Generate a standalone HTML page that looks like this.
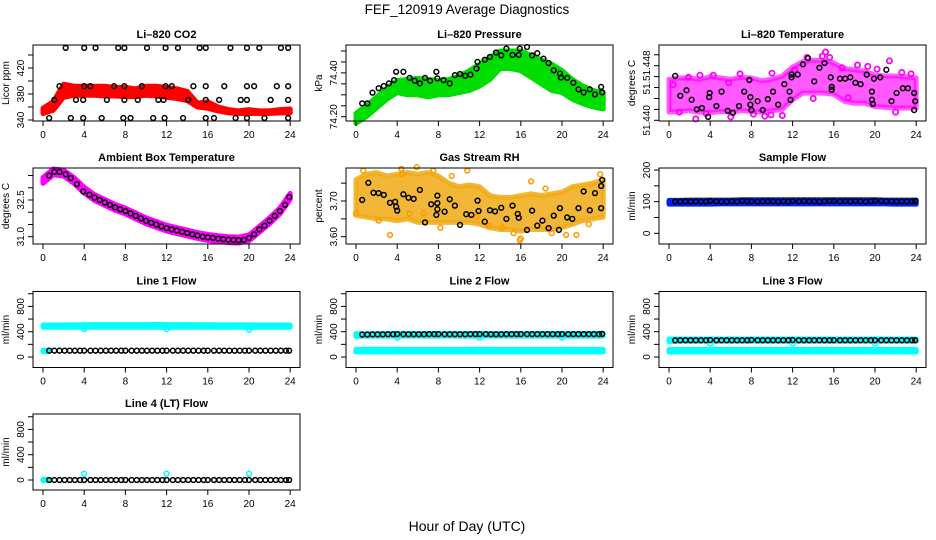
<!DOCTYPE html>
<html><head><meta charset="utf-8"><style>
html,body{margin:0;padding:0;background:#fff;}
svg{display:block;font-family:"Liberation Sans",sans-serif;}
</style></head><body>
<svg id="chart" width="936" height="540" viewBox="0 0 936 540" xmlns="http://www.w3.org/2000/svg">
<rect width="936" height="540" fill="#fff"/>
<text x="467" y="14" text-anchor="middle" font-size="13.5">FEF_120919  Average Diagnostics</text>
<text x="467" y="531" text-anchor="middle" font-size="14">Hour of Day (UTC)</text>
</svg>
<script>
// ---- shared data ----
const bandHours = [0,1,2,3,4,5,6,7,8,9,10,11,12,13,14,15,16,17,18,19,20,21,22,23,24];
const xTicks = [0,4,8,12,16,20,24];
const flowHours = [0.6,1.1,1.6,2.1,2.6,3.1,3.6,4.0,4.6,5.1,5.6,6.1,6.6,7.1,7.6,8.0,8.6,9.1,9.6,10.1,10.6,11.1,11.6,12.0,12.6,13.1,13.6,14.1,14.6,15.1,15.6,16.0,16.6,17.1,17.6,18.1,18.6,19.1,19.6,20.0,20.6,21.1,21.6,22.1,22.6,23.1,23.6,23.9];
const dipHours = [4,12,20];

// CO2
const co2Lo = [350,355,375,378,378,378,377,377,376,376,378,377,375,373,370,360,358,354,351,350,350,350,350,351,351];
const co2Hi = [358,368,395,392,392,392,392,390,390,388,392,392,390,388,384,366,368,360,356,354,356,354,354,356,357];
const co2BlkHours = [2.2,4,5.1,7.3,7.9,10.1,11.9,13.1,15.2,15.8,18.2,19.8,21,23.1,23.8, 1.6,4,4.6,6.9,7.9,9.6,11.9,12.5,14.6,15.8,17.6,19.8,20.5,22.7,23.8, 1.1,3.2,3.9,6.2,7.9,9.2,11.2,11.7,14.1,15.8,17.1,19.2,19.8,22.1,23.8, 0.6,2.7,3.9,5.7,7.8,8.5,10.7,11.8,13.6,15.8,16.6,18.7,19.8,21.5,23.8];
const co2BlkVals = [451,451,451,451,451,451,451,451,451,451,451,451,451,451,451, 392,392,392,392,392,392,392,392,392,392,392,392,392,392,392, 371,371,371,371,371,371,371,371,371,371,371,371,371,371,371, 343,343,343,343,343,343,343,343,343,343,343,343,343,343,343];
const co2Ticks = [340,360,380,400,420,440];
const co2Labels = ["340","","380","","420",""];

// Pressure
const presLo = [74.17,74.20,74.24,74.28,74.31,74.30,74.30,74.29,74.30,74.30,74.31,74.32,74.34,74.37,74.42,74.42,74.41,74.38,74.35,74.32,74.31,74.28,74.26,74.245,74.235];
const presHi = [74.215,74.25,74.29,74.33,74.365,74.37,74.375,74.37,74.365,74.37,74.385,74.41,74.44,74.47,74.50,74.50,74.50,74.48,74.46,74.44,74.41,74.37,74.34,74.32,74.31];
const presBlkHours = [0.6,1.1,1.6,2.2,2.7,3.2,3.7,3.9,4.6,5.2,5.7,6.2,6.7,7.2,7.8,7.9,8.5,9.1,9.6,10.1,10.6,11.1,11.7,11.8,12.5,13.0,13.6,14.1,14.6,15.2,15.8,15.9,16.6,17.1,17.6,18.2,18.7,19.2,19.8,19.9,20.5,21.1,21.6,22.1,22.7,23.2,23.8,23.9];
const presBlkVals = [74.261,74.261,74.31,74.33,74.34,74.352,74.367,74.405,74.405,74.377,74.364,74.352,74.377,74.364,74.405,74.375,74.367,74.352,74.39,74.395,74.387,74.392,74.42,74.45,74.46,74.473,74.493,74.48,74.511,74.482,74.482,74.511,74.518,74.48,74.49,74.465,74.445,74.412,74.397,74.379,74.377,74.355,74.325,74.311,74.325,74.302,74.336,74.311];
const presTicks = [74.20,74.25,74.30,74.35,74.40,74.45,74.50];
const presLabels = ["74.20","","","","74.40","",""];

// Li-820 temperature
const ltLo = [51.4412,51.4413,51.4414,51.4412,51.4411,51.4413,51.4412,51.4414,51.4413,51.4412,51.4414,51.4416,51.4430,51.4440,51.4440,51.4440,51.4438,51.4428,51.4425,51.4425,51.4420,51.4419,51.4418,51.4418,51.4418];
const ltHi = [51.4460,51.4462,51.4462,51.4460,51.4464,51.4462,51.4460,51.4463,51.4462,51.4458,51.4460,51.4465,51.4478,51.4486,51.4488,51.4488,51.4484,51.4476,51.4474,51.4472,51.4466,51.4465,51.4465,51.4464,51.4462];
const ltMagHours = [0.4,1.0,2.6,3.0,3.6,4.3,6.0,6.9,8.2,9.3,10.0,11.0,12.2,13.4,14.0,14.9,15.2,15.6,16.8,17.4,18.3,19.3,20.2,21.4,22.0,22.6,23.5,1.9,5.8,9.9];
const ltMagVals = [51.4452,51.4412,51.4402,51.4466,51.4410,51.4466,51.4405,51.4468,51.4409,51.4406,51.4469,51.4407,51.4474,51.4492,51.4432,51.4494,51.4500,51.4492,51.4477,51.4433,51.4481,51.4479,51.4475,51.4487,51.4412,51.4470,51.4468,51.4463,51.4455,51.4408];
const ltBlkHours = [0.6,1.1,1.7,2.2,2.7,3.2,3.8,3.9,3.95,4.6,5.1,5.7,6.2,6.8,7.3,7.8,7.9,7.9,8.0,8.6,9.1,9.6,10.1,10.6,11.2,11.7,11.8,11.9,11.9,12.5,13.0,13.5,14.1,14.6,15.1,15.7,15.8,15.8,16.6,17.1,17.6,18.1,18.6,19.2,19.7,19.7,19.8,19.9,20.5,21.1,21.6,22.1,22.7,23.2,23.8,23.9,23.8];
const ltBlkVals = [51.4465,51.4436,51.4444,51.4430,51.4416,51.4418,51.4405,51.4434,51.4440,51.4421,51.4442,51.4414,51.4411,51.4421,51.4442,51.4459,51.4434,51.4423,51.4415,51.4428,51.4415,51.4431,51.4442,51.4423,51.4453,51.4442,51.4430,51.4467,51.4463,51.4467,51.4482,51.4491,51.4457,51.4477,51.4484,51.4463,51.4449,51.4445,51.4461,51.4461,51.4463,51.4455,51.4453,51.4467,51.4442,51.4430,51.4424,51.4461,51.4463,51.4474,51.4428,51.4440,51.4447,51.4447,51.4440,51.4428,51.4415];
const ltTicks = [51.4400,51.4416,51.4432,51.4448,51.4464,51.4480,51.4496];
const ltLabels = ["51.440","","","51.","","51.448",""];

// Ambient box temperature
const ambCurve = [33.3,33.65,33.6,33.3,32.9,32.6,32.4,32.2,32.05,31.85,31.65,31.5,31.35,31.25,31.15,31.05,30.97,30.92,30.88,30.86,30.95,31.3,31.65,32.05,32.65];
const ambBlkHours = [0.6,1.1,1.6,2.2,2.7,3.3,3.9,4.5,5.0,5.5,6.0,6.5,7.0,7.5,8.0,8.5,9.0,9.5,10.0,10.5,11.0,11.5,12.0,12.5,13.0,13.5,14.0,14.5,15.0,15.5,16.0,16.5,17.0,17.5,18.0,18.5,19.0,19.5,20.0,20.5,21.0,21.5,22.0,22.5,23.0,23.5,23.9];
const ambBlkVals = [33.5,33.65,33.65,33.55,33.4,33.15,32.85,32.72,32.6,32.5,32.4,32.3,32.2,32.12,32.05,31.95,31.85,31.75,31.65,31.57,31.5,31.42,31.35,31.3,31.25,31.2,31.15,31.1,31.05,31.0,30.97,30.95,30.92,30.9,30.88,30.87,30.86,30.87,30.95,31.1,31.3,31.45,31.65,31.85,32.05,32.3,32.62];
const ambTicks = [31.0,31.5,32.0,32.5,33.0,33.5];
const ambLabels = ["31.0","","","32.5","",""];

// Gas stream RH
const rhLo = [3.66,3.655,3.65,3.65,3.645,3.65,3.64,3.64,3.64,3.64,3.64,3.64,3.635,3.625,3.62,3.62,3.615,3.62,3.62,3.62,3.625,3.635,3.645,3.65,3.655];
const rhHi = [3.76,3.775,3.78,3.77,3.775,3.78,3.775,3.78,3.77,3.75,3.74,3.745,3.74,3.715,3.71,3.71,3.715,3.72,3.715,3.72,3.725,3.74,3.745,3.75,3.76];
const rhOrHours = [0.0,0.7,2.2,3.3,4.4,5.2,5.9,7.5,8.2,9.3,10.8,11.7,12.9,14.2,15.3,15.9,16.0,17.0,18.4,19.0,20.4,21.4,22.6,23.7,4.5,6.6];
const rhOrVals = [3.665,3.785,3.645,3.605,3.79,3.665,3.795,3.785,3.625,3.77,3.785,3.655,3.63,3.625,3.61,3.59,3.595,3.755,3.735,3.61,3.605,3.605,3.635,3.775,3.775,3.665];
const rhBlkHours = [0.6,1.2,1.7,2.2,2.7,3.3,3.8,3.9,4.0,4.6,5.1,5.6,6.2,6.7,7.3,7.9,7.9,7.9,7.8,8.6,9.1,9.6,10.1,10.7,11.2,11.8,11.9,12.5,13.0,13.5,14.1,14.6,15.2,15.7,15.8,16.6,17.1,17.6,18.1,18.7,19.2,19.7,19.8,20.5,21.0,21.6,22.1,22.7,23.2,23.8,23.9,23.8];
const rhBlkVals = [3.703,3.751,3.723,3.722,3.717,3.695,3.698,3.684,3.673,3.719,3.709,3.706,3.731,3.640,3.691,3.715,3.694,3.677,3.661,3.670,3.705,3.687,3.633,3.663,3.661,3.701,3.672,3.642,3.674,3.671,3.681,3.650,3.687,3.664,3.653,3.619,3.673,3.631,3.645,3.624,3.659,3.619,3.680,3.654,3.650,3.680,3.727,3.674,3.722,3.742,3.759,3.680];
const rhTicks = [3.60,3.65,3.70,3.75];
const rhLabels = ["3.60","","3.70",""];

// Sample flow
const sfLo = [92,92,92,92,92,93,93,93,93,93,93,93,93,93,93,93,93,93,93,93,93,93,92,92,92];
const sfHi = [104,104,105,105,105,105,105,106,106,106,106,106,106,106,106,106,106,106,106,106,106,105,105,105,105];
const sfBlkVals = [100,100,101,100,101,100,100,102,101,100,100,101,100,102,101,101,100,101,102,101,100,101,100,102,101,102,101,101,100,101,102,102,101,102,101,102,101,100,101,102,102,101,101,100,101,100,101,102];
const sfTicks = [0,50,100,150,200];
const sfLabels = ["0","","100","","200"];

// Line flows
const flowTicks = [0,200,400,600,800,1000];
const flowLabels = ["0","","400","","800",""];
const l1CyanLo = [470,470,470,470,468,470,470,470,470,470,470,470,468,470,470,470,470,470,470,470,468,470,470,470,470];
const l1CyanHi = [505,505,506,508,510,512,512,512,512,512,512,514,512,512,512,510,510,508,508,508,508,506,506,506,506];
const l1Dip = [440,440,430];
const l1BlkVals = [100,100,100,100,100,100,100,100,100,100,100,100,100,100,100,100,100,100,100,100,100,100,100,100,100,100,100,100,100,100,100,100,100,100,100,100,100,100,100,100,100,100,100,100,100,100,100,100];
const l2CyanHiLo = [80,80,80,80,80,80,80,80,80,80,80,80,80,80,80,80,80,80,80,80,80,80,80,80,80];
const l2CyanHiHi = [120,120,120,120,120,120,120,120,120,120,120,120,120,120,120,120,120,120,120,120,120,120,120,120,120];
const l2CyanUpLo = [325,330,330,330,330,330,330,330,330,330,330,330,330,330,330,330,330,330,330,330,330,330,330,330,330];
const l2CyanUpHi = [370,370,370,372,372,372,372,372,372,372,372,372,372,372,372,372,372,372,372,372,372,372,372,372,372];
const l2Dip = [305,305,305];
const l2BlkVals = [355,355,358,358,358,360,360,362,360,360,360,360,360,362,362,362,360,360,360,360,360,362,362,362,362,360,360,360,362,362,362,362,362,362,362,362,362,362,362,362,362,362,362,362,362,362,362,365];
const l3CyanUpLo = [245,250,250,250,250,250,250,250,250,250,250,250,250,250,250,250,250,250,250,250,250,250,250,250,250];
const l3CyanUpHi = [285,285,285,285,285,285,285,285,285,285,285,285,285,285,285,285,285,285,285,285,285,285,285,285,285];
const l3Dip = [215,215,215];
const l3BlkVals = [262,265,265,265,265,265,265,268,265,265,265,265,265,265,265,268,265,265,265,265,265,265,265,268,265,265,265,265,265,265,265,265,265,265,265,265,265,265,265,265,265,265,265,265,265,265,265,265];
const l4Dip = [100,100,100];
const l4BlkVals = [0,0,0,0,0,0,0,0,0,0,0,0,0,0,0,0,0,0,0,0,0,0,0,0,0,0,0,0,0,0,0,0,0,0,0,0,0,0,0,0,0,0,0,0,0,0,0,0];

// ---- drawing ----
const NS = "http://www.w3.org/2000/svg";
const svg = document.getElementById("chart");
const colLeft = [33, 346, 659];
const rowTop = [45, 168, 291.5, 414];
const BOXW = 267, BOXH = 76;

function mk(tag, attrs, parent) {
  const e = document.createElementNS(NS, tag);
  for (const k in attrs) e.setAttribute(k, attrs[k]);
  (parent || svg).appendChild(e);
  return e;
}

function makePanel(name, col, row, title, ylab, v0, p0, v1, p1, ticks, labels) {
  const L = colLeft[col], T = rowTop[row];
  const g = mk("g", {});
  
  
  const xs = t => L + 10 + t * 10.3;
  const ys = v => T + p0 + (v - v0) * (p1 - p0) / (v1 - v0);
  const plot = mk("g", {}, g);
  
  
  const tt = mk("text", {x: L + BOXW / 2, y: T - 7, "text-anchor": "middle", "font-size": "11", "font-weight": "bold"}, g);
  tt.textContent = title;
  
  
  const yl = mk("text", {x: 0, y: 0, transform: `translate(${L - 24},${T + BOXH / 2}) rotate(-90)`, "text-anchor": "middle", "font-size": "10"}, g);
  yl.textContent = ylab;
  
  
  const ax = mk("g", {stroke: "#000", "stroke-width": "1"}, g);
  
  
  const box = mk("rect", {x: L, y: T, width: BOXW, height: BOXH, fill: "none"}, ax);
  
  
  mk("line", {x1: xs(xTicks[0]), x2: xs(xTicks[xTicks.length - 1]), y1: T + BOXH, y2: T + BOXH}, ax);
  xTicks.forEach(t => {
    mk("line", {x1: xs(t), x2: xs(t), y1: T + BOXH, y2: T + BOXH + 5}, ax);
    const lb = mk("text", {x: xs(t), y: T + BOXH + 17, "text-anchor": "middle", "font-size": "10", stroke: "none"}, g);
    lb.textContent = String(t);
    
    
  });
  ticks.forEach((v, i) => {
    mk("line", {x1: L, x2: L - 5, y1: ys(v), y2: ys(v)}, ax);
    if (labels[i]) {
      const lb = mk("text", {x: 0, y: 0, transform: `translate(${L - 9},${ys(v)}) rotate(-90)`, "text-anchor": "middle", "font-size": "10"}, g);
      lb.textContent = labels[i];
      
      
    }
  });
  return {plot, xs, ys, name};
}

function band(P, hours, lo, hi, color, label) {
  const pts = hours.map((h, i) => `${P.xs(h)},${P.ys(hi[i])}`).concat(hours.slice().reverse().map((h, j) => {
    const i = hours.length - 1 - j; return `${P.xs(h)},${P.ys(lo[i])}`;
  }));
  const pg = mk("polygon", {points: pts.join(" "), fill: color, stroke: color, "stroke-width": "5", "stroke-linejoin": "round"}, P.plot);
  
  
}

function points(P, hours, vals, color, label, r, sw) {
  hours.forEach((h, i) => {
    const c = mk("circle", {cx: P.xs(h), cy: P.ys(vals[i]), r: r || 2.4, fill: "none", stroke: color, "stroke-width": sw || 1.5}, P.plot);
    
    
  });
}

// Panels
let P;
P = makePanel("co2", 0, 0, "Li\u2013820 CO2", "Licor ppm", 340, 75, 440, 10, co2Ticks, co2Labels);
band(P, bandHours, co2Lo, co2Hi, "#ff0000", "red-band");
points(P, co2BlkHours, co2BlkVals, "#000", "mean-point");

P = makePanel("pressure", 1, 0, "Li\u2013820 Pressure", "kPa", 74.20, 71.7, 74.50, 6, presTicks, presLabels);
band(P, bandHours, presLo, presHi, "#00dd00", "green-band");
points(P, presBlkHours, presBlkVals, "#000", "mean-point");

P = makePanel("li820-temp", 2, 0, "Li\u2013820 Temperature", "degrees C", 51.440, 75.3, 51.448, 20.7, ltTicks, ltLabels);
band(P, bandHours, ltLo, ltHi, "rgba(255,0,255,0.65)", "magenta-band");
points(P, ltMagHours, ltMagVals, "#ff00ff", "magenta-point", 2.6, 1.8);
points(P, ltBlkHours, ltBlkVals, "#000", "mean-point");

P = makePanel("ambient-temp", 0, 1, "Ambient Box Temperature", "degrees C", 31.0, 68.7, 32.5, 32, ambTicks, ambLabels);
band(P, bandHours, ambCurve.map(v => v - 0.12), ambCurve.map(v => v + 0.12), "#ff00ff", "magenta-band");
points(P, ambBlkHours, ambBlkVals, "#000", "mean-point");

P = makePanel("rh", 1, 1, "Gas Stream RH", "percent", 3.60, 68.7, 3.70, 33, rhTicks, rhLabels);
band(P, bandHours, rhLo, rhHi, "rgba(240,170,20,0.85)", "orange-band");
points(P, rhOrHours, rhOrVals, "#ff9900", "orange-point", 2.4, 1.5);
points(P, rhBlkHours, rhBlkVals, "#000", "mean-point");

P = makePanel("sample-flow", 2, 1, "Sample Flow", "ml/min", 0, 65.3, 200, 2, sfTicks, sfLabels);
band(P, bandHours, sfLo, sfHi, "#0022ee", "blue-band");
points(P, flowHours, sfBlkVals, "#000", "mean-point");

P = makePanel("line1-flow", 0, 2, "Line 1 Flow", "ml/min", 0, 65.5, 800, 14.9, flowTicks, flowLabels);
band(P, bandHours, l1CyanLo, l1CyanHi, "#00ffff", "cyan-band");
band(P, [0, 0.5], [85, 85], [105, 105], "#00ffff", "cyan-start");
points(P, dipHours, l1Dip, "#00ffff", "cyan-dip");
points(P, flowHours, l1BlkVals, "#000", "mean-point");

P = makePanel("line2-flow", 1, 2, "Line 2 Flow", "ml/min", 0, 65.5, 800, 14.9, flowTicks, flowLabels);
band(P, bandHours, l2CyanHiLo, l2CyanHiHi, "#00ffff", "cyan-low-band");
band(P, bandHours, l2CyanUpLo, l2CyanUpHi, "#00ffff", "cyan-high-band");
points(P, dipHours, l2Dip, "#00ffff", "cyan-dip");
points(P, flowHours, l2BlkVals, "#000", "mean-point");

P = makePanel("line3-flow", 2, 2, "Line 3 Flow", "ml/min", 0, 65.5, 800, 14.9, flowTicks, flowLabels);
band(P, bandHours, l2CyanHiLo, l2CyanHiHi, "#00ffff", "cyan-low-band");
band(P, bandHours, l3CyanUpLo, l3CyanUpHi, "#00ffff", "cyan-high-band");
points(P, dipHours, l3Dip, "#00ffff", "cyan-dip");
points(P, flowHours, l3BlkVals, "#000", "mean-point");

P = makePanel("line4-flow", 0, 3, "Line 4 (LT) Flow", "ml/min", 0, 66, 800, 15.4, flowTicks, flowLabels);
band(P, [0, 0.5], [-10, -10], [10, 10], "#00ffff", "cyan-start");
points(P, dipHours, l4Dip, "#00ffff", "cyan-dip");
points(P, flowHours, l4BlkVals, "#000", "mean-point");
</script>
</body></html>
